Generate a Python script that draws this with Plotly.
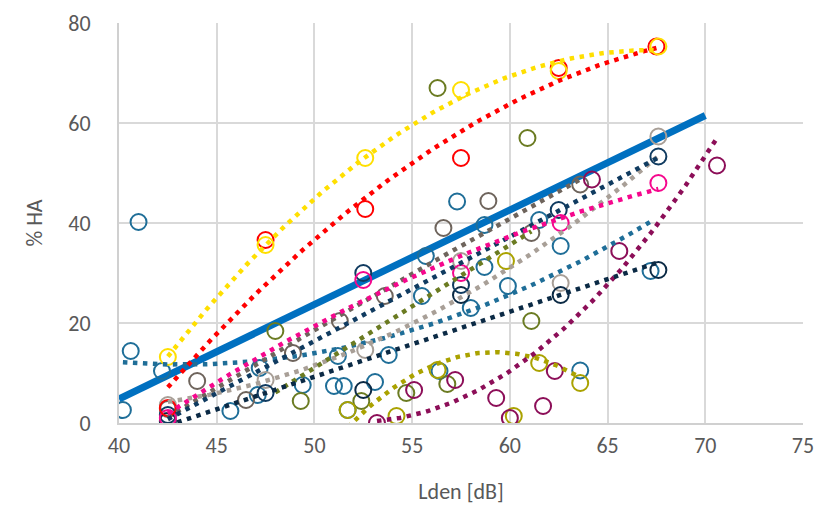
import numpy as np
import plotly.graph_objects as go

# ---- data (Lden [dB], % HA) ----
yellow_x = [42.5, 47.5, 52.6, 57.5, 62.5, 67.6]
yellow_y = [13.2, 35.6, 53.0, 66.6, 70.4, 75.3]

red_x = [42.5, 47.5, 52.6, 57.5, 62.5, 67.5]
red_y = [3.0, 36.6, 42.8, 53.0, 71.0, 75.3]

tan_x = [42.5, 47.5, 52.6, 57.5, 62.6, 67.6]
tan_y = [3.6, 8.6, 14.6, 32.4, 28.0, 57.3]

navy_hi_x = [42.5, 47.5, 52.5, 57.5, 62.5, 67.6]
navy_hi_y = [1.6, 6.0, 30.0, 27.6, 42.6, 53.3]

navy_lo_x = [42.5, 52.5, 57.5, 62.6, 67.6]
navy_lo_y = [0.4, 6.6, 25.6, 25.6, 30.6]

pink_x = [42.5, 52.5, 57.5, 62.6, 67.6]
pink_y = [1.0, 28.6, 30.0, 40.0, 48.0]

teal_x = [40.2, 40.6, 41.0, 42.2, 45.7, 47.1, 47.2, 49.4, 51.0, 51.5, 51.2, 51.7,
          53.1, 53.8, 55.5, 55.7, 56.4, 57.3, 58.0, 58.7, 58.7, 59.9, 61.5, 62.6,
          63.6, 67.2]
teal_y = [2.6, 14.4, 40.2, 10.4, 2.4, 5.6, 11.0, 7.6, 7.4, 7.4, 13.4, 2.6,
          8.2, 13.6, 25.4, 33.4, 10.4, 44.3, 23.0, 39.6, 31.2, 27.4, 40.6, 35.4,
          10.5, 30.4]

brown_x = [42.5, 44.0, 46.5, 48.9, 51.3, 53.6, 56.6, 58.9, 61.1, 63.6]
brown_y = [2.8, 8.4, 4.6, 14.0, 20.4, 25.4, 39.0, 44.4, 38.0, 47.7]

olive_x = [48.0, 49.3, 52.4, 54.7, 56.3, 56.8, 60.9, 61.1]
olive_y = [18.4, 4.4, 4.4, 6.0, 67.0, 7.8, 57.0, 20.4]

mustard_x = [51.7, 54.2, 56.3, 59.8, 60.2, 61.5, 63.6]
mustard_y = [2.6, 1.4, 10.6, 32.4, 1.4, 12.0, 8.0]

plum_x = [53.2, 55.1, 57.2, 59.3, 60.0, 61.7, 62.3, 64.2, 65.6, 70.6]
plum_y = [0.0, 6.6, 8.6, 5.0, 1.0, 3.4, 10.4, 48.7, 34.4, 51.5]

# overall exposure-response line
ref_x = [40.0, 70.0]
ref_y = [4.8, 61.5]

x_ticks = [40, 45, 50, 55, 60, 65, 70, 75]
y_ticks = [0, 20, 40, 60, 80]

groups = [
    # (x, y, colour, trendline degree)
    (teal_x, teal_y, "#1F6E98", 2),
    (brown_x, brown_y, "#6E645C", 2),
    (tan_x, tan_y, "#A89F97", 2),
    (olive_x, olive_y, "#6B7B22", 1),
    (mustard_x, mustard_y, "#AAA200", 2),
    (plum_x, plum_y, "#8C0E58", 2),
    (navy_lo_x, navy_lo_y, "#0B2A45", 1),
    (navy_hi_x, navy_hi_y, "#103B60", 1),
    (pink_x, pink_y, "#F5078D", 2),
    (red_x, red_y, "#FF0000", 2),
    (yellow_x, yellow_y, "#FFDF00", 2),
]

fig = go.Figure()

fig.add_trace(go.Scatter(x=ref_x, y=ref_y, mode="lines",
                         line=dict(color="#0070C0", width=7),
                         showlegend=False, hoverinfo="skip"))

for gx, gy, col, deg in groups:
    fig.add_trace(go.Scatter(
        x=gx, y=gy, mode="markers",
        marker=dict(symbol="circle-open", size=16, color=col,
                    line=dict(width=2, color=col)),
        showlegend=False))

for gx, gy, col, deg in groups:
    coef = np.polyfit(gx, gy, deg)
    xs = np.linspace(min(gx), max(gx), 120)
    fig.add_trace(go.Scatter(
        x=xs, y=np.polyval(coef, xs), mode="lines",
        line=dict(color=col, width=4.5, dash="4.5px,5.5px"),
        showlegend=False, hoverinfo="skip"))

font_family = "Carlito, Lato, sans-serif"
fig.update_layout(
    width=838, height=507,
    margin=dict(l=111, r=43, t=15, b=92),
    paper_bgcolor="white", plot_bgcolor="white",
    font=dict(family=font_family, color="#595959", size=18),
    showlegend=False,
)
fig.update_xaxes(
    range=[40, 75], tickvals=x_ticks, ticktext=[str(v) for v in x_ticks],
    showgrid=True, gridcolor="#D9D9D9", gridwidth=2,
    showline=True, linecolor="#D0D0D0", linewidth=2, zeroline=False,
    ticks="", ticklabelstandoff=2,
    tickfont=dict(size=22, color="#595959"),
    title=dict(text="Lden [dB]", font=dict(size=22, color="#595959"), standoff=25),
    automargin=False,
)
fig.update_yaxes(
    range=[0, 80], tickvals=y_ticks, ticktext=[str(v) for v in y_ticks],
    showgrid=True, gridcolor="#D9D9D9", gridwidth=2,
    showline=True, linecolor="#D0D0D0", linewidth=2, zeroline=False,
    ticks="", ticklabelstandoff=22,
    tickfont=dict(size=22, color="#595959"),
    title=dict(text="% HA", font=dict(size=22, color="#595959"), standoff=20),
    automargin=False,
)

fig.write_html("out.html")
